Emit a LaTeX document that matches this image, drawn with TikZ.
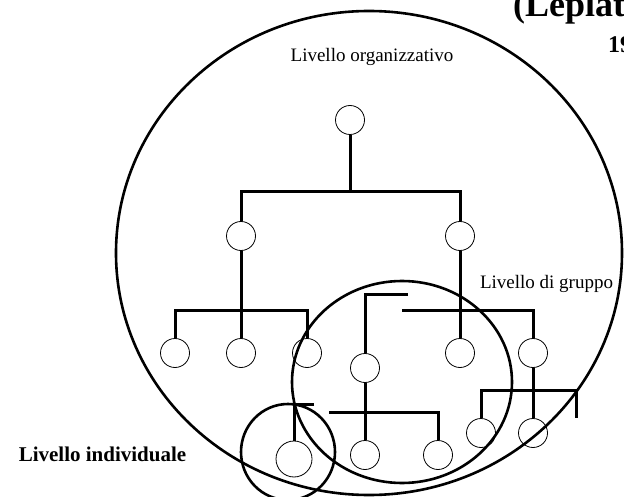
\documentclass[tikz,border=0pt]{standalone}
\usepackage{fontspec}
\setmainfont{Liberation Serif}
\begin{document}
\begin{tikzpicture}[x=1pt,y=-1pt,
  unit/.style={circle,draw,line width=0.8pt,minimum size=29pt,inner sep=0pt},
  bigunit/.style={unit,minimum size=36pt},
  conn/.style={line width=3pt,line join=miter},
  level/.style={line width=2.6pt},
  lab/.style={inner sep=0pt,anchor=base,font=\fontsize{19}{22}\selectfont}]
\useasboundingbox (0,0) rectangle (624,497);
% levels
\draw[level] (369,253) ellipse [x radius=253pt,y radius=242pt];
\draw[level] (402,382) ellipse [x radius=110pt,y radius=101pt];
\draw[level] (288,452) ellipse [x radius=47pt,y radius=48pt];
% units
\node[unit] (n0) at (350,120) {};
\node[unit] (n1) at (241,236) {};
\node[unit] (n2) at (460,236) {};
\node[unit] (a) at (175,353) {};
\node[unit] (b) at (241,353) {};
\node[unit] (c) at (307,353) {};
\node[unit] (d) at (460,353) {};
\node[unit] (e) at (533,353) {};
\node[unit] (f) at (365,368) {};
\node[unit] (g) at (365,455) {};
\node[unit] (h) at (438,455) {};
\node[bigunit] (i) at (294,459) {};
\node[unit] (j) at (533,433) {};
\node[unit] (k) at (481,433) {};
% junctions and free ends
\coordinate (j0) at (350,192);
\coordinate (j1) at (241,310);
\coordinate (g1) at (402,310);
\coordinate (g2) at (408,294);
\coordinate (g3) at (329,412);
\coordinate (g4) at (314,404);
\coordinate (g5) at (576,390);
\coordinate (g6) at (576,418);
% connectors
\draw[conn] (n0.south) -- (j0);
\draw[conn] (n1.north) |- (j0) -| (n2.north);
\draw[conn] (n1.south) -- (b.north);
\draw[conn] (a.north) |- (j1) -| (c.north);
\draw[conn] (n2.south) -- (d.north);
\draw[conn] (g1) -| (e.north);
\draw[conn] (g2) -| (f.north);
\draw[conn] (f.south) -- (g.north);
\draw[conn] (g3) -| (h.north);
\draw[conn] (g4) -| (i.north);
\draw[conn] (e.south) -- (j.north);
\draw[conn] (k.north) |- (g5) -- (g6);
% labels
\node[lab] (lorg) at (372,62) {Livello organizzativo};
\node[lab] (lgru) at (546.5,288) {Livello di gruppo};
\node[lab,font=\fontsize{21}{24}\selectfont\bfseries] (lind) at (102.5,461) {Livello individuale};
\node[inner sep=0pt,anchor=base west,font=\fontsize{36}{40}\selectfont\bfseries] (tit1) at (513,17) {(Leplat};
\node[inner sep=0pt,anchor=base west,font=\fontsize{24}{28}\selectfont\bfseries] (tit2) at (608,53) {19};
\end{tikzpicture}
\end{document}
